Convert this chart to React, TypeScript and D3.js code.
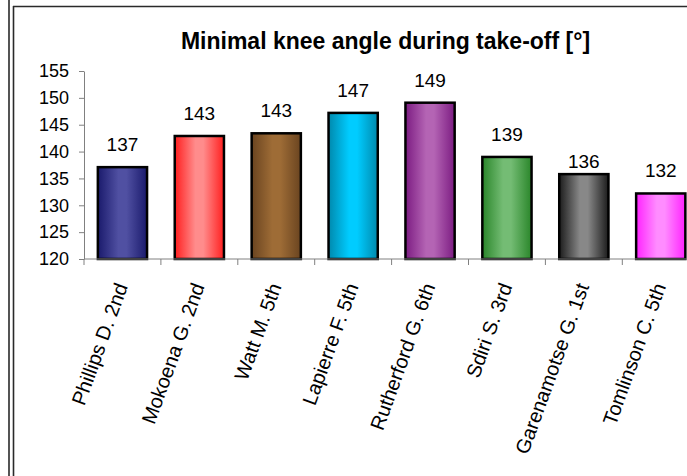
import { useEffect, useRef } from 'react';
import * as d3 from 'd3';

// Athletes (x categories) and minimal knee angle values [deg]
const athletes = [
  'Phillips D. 2nd',
  'Mokoena G. 2nd',
  'Watt M. 5th',
  'Lapierre F. 5th',
  'Rutherford G. 6th',
  'Sdiri S. 3rd',
  'Garenamotse G. 1st',
  'Tomlinson C. 5th',
];
const kneeAngles = [137.1, 142.9, 143.4, 147.2, 149.1, 139.0, 135.8, 132.2];
const valueLabels = ['137', '143', '143', '147', '149', '139', '136', '132'];
const yTicks = [120, 125, 130, 135, 140, 145, 150, 155];

// edge (dark) / centre (light) colours of each bar's gradient
const edgeColors = ['#1a1a6c', '#ff1f1f', '#6a4420', '#0089ad', '#7c1c82', '#2a862a', '#1c1c1c', '#ff22ff'];
const midColors = ['#5050a2', '#ff8c8c', '#9e6c36', '#00ccff', '#b464b4', '#74bc74', '#888888', '#ff8cff'];

const chartTitle = 'Minimal knee angle during take-off [°]';

export default function App() {
  const svgRef = useRef<SVGSVGElement | null>(null);

  useEffect(() => {
    if (!svgRef.current) return;
    const width = 687;
    const height = 476;
    const svg = d3.select(svgRef.current);
    svg.selectAll('*').remove();
    svg.attr('width', width).attr('height', height);

    const font = '"Liberation Sans", Arial, sans-serif';
    const axisColor = '#808080';

    // plot frame
    const left = 84;
    const bottom = 259;
    const top = 71;

    const x = d3.scaleBand<string>()
      .domain(athletes)
      .range([left, left + 8 * 76.9])
      .paddingInner(0.36)
      .paddingOuter(0.18);

    const y = d3.scaleLinear().domain([120, 155]).range([bottom, top]);

    // outer chart borders
    svg.append('line')
      .attr('x1', 9).attr('x2', 9).attr('y1', 0).attr('y2', height)
      .attr('stroke', '#2a2a2a').attr('stroke-width', 1.6);
    svg.append('line')
      .attr('x1', 13.5).attr('x2', 13.5).attr('y1', 6).attr('y2', height)
      .attr('stroke', '#2a2a2a').attr('stroke-width', 1.6);
    svg.append('line')
      .attr('x1', 13).attr('x2', width).attr('y1', 6.5).attr('y2', 6.5)
      .attr('stroke', '#2a2a2a').attr('stroke-width', 1.6);

    // gradients for bars
    const defs = svg.append('defs');
    athletes.forEach((_, i) => {
      const grad = defs.append('linearGradient')
        .attr('id', `bar-grad-${i}`)
        .attr('x1', '0%').attr('x2', '100%')
        .attr('y1', '0%').attr('y2', '0%');
      grad.append('stop').attr('offset', '0%').attr('stop-color', edgeColors[i]);
      grad.append('stop').attr('offset', '42%').attr('stop-color', midColors[i]);
      grad.append('stop').attr('offset', '58%').attr('stop-color', midColors[i]);
      grad.append('stop').attr('offset', '100%').attr('stop-color', edgeColors[i]);
    });

    // title
    svg.append('text')
      .attr('x', 385.5)
      .attr('y', 49)
      .attr('text-anchor', 'middle')
      .attr('font-family', font)
      .attr('font-size', 23)
      .attr('font-weight', 'bold')
      .attr('fill', '#000')
      .text(chartTitle);

    // bars
    svg.append('g')
      .selectAll('rect')
      .data(kneeAngles)
      .join('rect')
      .attr('x', (_, i) => x(athletes[i])!)
      .attr('y', d => y(d))
      .attr('width', x.bandwidth())
      .attr('height', d => bottom - y(d))
      .attr('fill', (_, i) => `url(#bar-grad-${i})`)
      .attr('stroke', '#000')
      .attr('stroke-width', 2.5);

    // value labels (Garenamotse label sits lower in the original)
    const labelNudge = [0, 0, 0, 0, 0, 0, 10, 0];
    svg.append('g')
      .selectAll('text')
      .data(kneeAngles)
      .join('text')
      .attr('x', (_, i) => x(athletes[i])! + x.bandwidth() / 2)
      .attr('y', (d, i) => y(d) - 16 + labelNudge[i])
      .attr('text-anchor', 'middle')
      .attr('font-family', font)
      .attr('font-size', 19)
      .attr('fill', '#000')
      .text((_, i) => valueLabels[i]);

    // y axis
    const yAxis = svg.append('g')
      .attr('transform', `translate(${left},0)`)
      .call(d3.axisLeft(y).tickValues(yTicks).tickSize(5).tickSizeOuter(0).tickPadding(10).tickFormat(d3.format('d')));
    yAxis.select('.domain').attr('stroke', axisColor);
    yAxis.selectAll('.tick line').attr('stroke', axisColor);
    yAxis.selectAll('.tick text')
      .attr('font-family', font)
      .attr('font-size', 18)
      .attr('fill', '#000');

    // x axis line and ticks at category boundaries
    svg.append('line')
      .attr('x1', left).attr('x2', width)
      .attr('y1', bottom).attr('y2', bottom)
      .attr('stroke', axisColor).attr('stroke-width', 1);
    const step = x.step();
    svg.append('g')
      .selectAll('line')
      .data(athletes)
      .join('line')
      .attr('x1', (_, i) => left + i * step)
      .attr('x2', (_, i) => left + i * step)
      .attr('y1', bottom)
      .attr('y2', bottom + 6)
      .attr('stroke', axisColor);

    // rotated category labels
    svg.append('g')
      .selectAll('text')
      .data(athletes)
      .join('text')
      .attr('transform', d => `translate(${x(d)! + x.bandwidth() / 2 - 1},${bottom + 25}) rotate(-70)`)
      .attr('text-anchor', 'end')
      .attr('dy', '0.35em')
      .attr('font-family', font)
      .attr('font-size', 20)
      .attr('fill', '#000')
      .text(d => d);
  }, []);

  return (
    <svg
      ref={svgRef}
      style={{ position: 'absolute', left: 0, top: 0, background: '#fff' }}
    />
  );
}
